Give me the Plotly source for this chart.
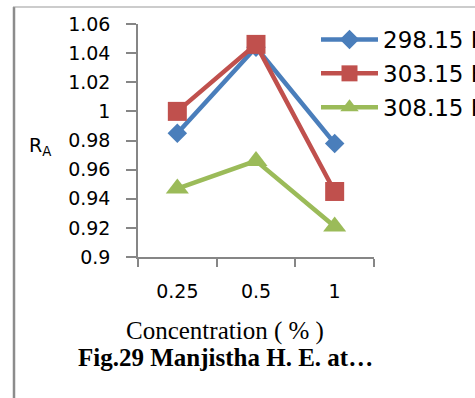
import plotly.graph_objects as go

categories = ["0.25", "0.5", "1"]
series_names = ["298.15 K", "303.15 K", "308.15 K"]
values_298 = [0.985, 1.044, 0.978]
values_303 = [1.000, 1.046, 0.945]
values_308 = [0.947, 0.966, 0.921]
y_tickvals = [0.9, 0.92, 0.94, 0.96, 0.98, 1.0, 1.02, 1.04, 1.06]
y_ticktext = ["0.9", "0.92", "0.94", "0.96", "0.98", "1", "1.02", "1.04", "1.06"]

colors = ["#4A7EBB", "#C0504D", "#9BBB59"]
symbols = ["diamond", "square", "triangle-up"]
sizes = [15, 19, 20]

W, H = 475, 398
L, R, T, B = 138, 101, 24, 141
pw, ph = W - L - R, H - T - B

def px(x):
    return (x - L) / pw

def py(y):
    return (H - B - y) / ph

fig = go.Figure()
for i, vals in enumerate([values_298, values_303, values_308]):
    fig.add_trace(go.Scatter(
        x=categories, y=vals, name=series_names[i], mode="lines+markers",
        legendgroup=str(i),
        line=dict(color=colors[i], width=4.5),
        marker=dict(symbol=symbols[i], size=sizes[i], color=colors[i]),
    ))

font = "DejaVu Sans"
fig.update_layout(
    width=W, height=H,
    margin=dict(l=L, r=R, t=T, b=B, autoexpand=False),
    paper_bgcolor="white", plot_bgcolor="white",
    showlegend=True,
    legend=dict(x=px(316), y=py(18), xanchor="left", yanchor="top",
                font=dict(family=font, size=23, color="black"),
                itemwidth=57, tracegroupgap=1, bgcolor="rgba(0,0,0,0)"),
    xaxis=dict(type="category", range=[-0.5, 2.5], showgrid=False,
               showline=True, linecolor="#868686", linewidth=1.5,
               ticks="outside", ticklen=8, tickcolor="#868686", tickwidth=1.5,
               tickson="boundaries", ticklabelstandoff=16,
               tickfont=dict(family=font, size=19, color="black"), zeroline=False),
    yaxis=dict(range=[0.9, 1.06], showgrid=False, showline=True,
               linecolor="#868686", linewidth=1.5,
               tickvals=y_tickvals, ticktext=y_ticktext,
               ticks="outside", ticklen=10, tickcolor="#868686", tickwidth=1.5,
               ticklabelstandoff=12,
               tickfont=dict(family=font, size=19, color="black"), zeroline=False),
)

fig.add_annotation(text="R<sub>A</sub>", x=px(27), y=py(146), xref="paper", yref="paper",
                   xanchor="left", yanchor="middle", showarrow=False,
                   font=dict(family=font, size=19, color="black"))
fig.add_annotation(text="Concentration ( % )", x=px(225), y=py(331), xref="paper", yref="paper",
                   xanchor="center", yanchor="middle", showarrow=False,
                   font=dict(family="Liberation Serif", size=25, color="black"))
fig.add_annotation(text="<b>Fig.29 Manjistha H. E. at…</b>", x=px(225), y=py(357), xref="paper", yref="paper",
                   xanchor="center", yanchor="middle", showarrow=False,
                   font=dict(family="Liberation Serif", size=25, color="black"))

fig.add_shape(type="line", xref="paper", yref="paper", x0=px(14), x1=px(14), y0=py(7), y1=py(H + 5),
              line=dict(color="#8C8C8C", width=2.5))
fig.add_shape(type="line", xref="paper", yref="paper", x0=px(13), x1=px(W + 5), y0=py(7), y1=py(7),
              line=dict(color="#9A9A9A", width=1.2))

fig.write_html("out.html")
